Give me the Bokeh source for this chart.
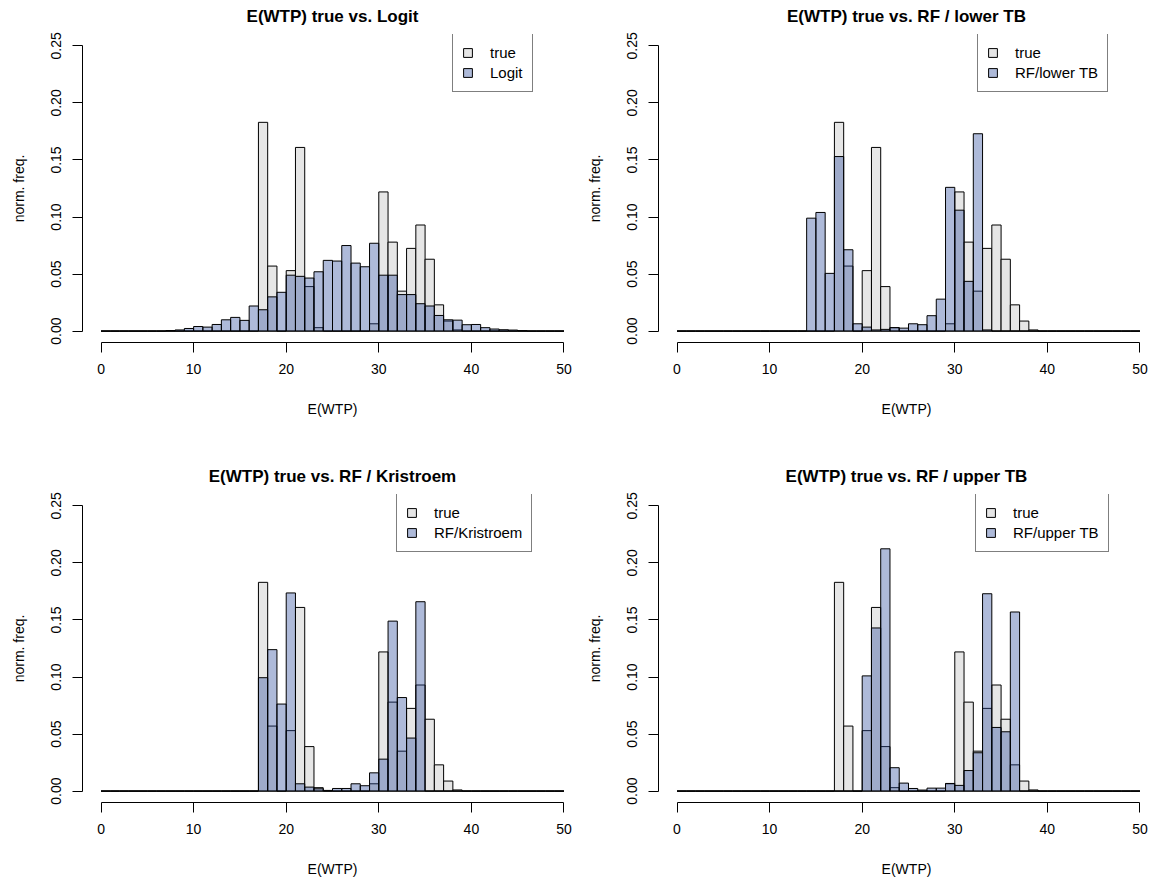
from bokeh.plotting import figure
from bokeh.models import (Range1d, FixedTicker, NumeralTickFormatter, Legend,
                          LegendItem)
from bokeh.layouts import gridplot
from bokeh.embed import file_html
from bokeh.resources import INLINE

# ---------------- data ----------------
bin_edges = list(range(0, 51))          # E(WTP) histogram breaks, width 1
x_ticks = [0, 10, 20, 30, 40, 50]
y_ticks = [0.00, 0.05, 0.10, 0.15, 0.20, 0.25]

true_freq = [
    0, 0, 0, 0, 0, 0, 0, 0, 0, 0,
    0, 0, 0, 0, 0, 0, 0, 0.183, 0.057, 0,
    0.053, 0.161, 0.039, 0.003, 0, 0, 0, 0, 0, 0.0064,
    0.122, 0.078, 0.035, 0.0725, 0.093, 0.063, 0.023, 0.0088, 0.001, 0,
    0, 0, 0, 0, 0, 0, 0, 0, 0, 0]

logit_freq = [
    0, 0, 0, 0, 0, 0, 0, 0.0005, 0.001, 0.0023,
    0.004, 0.0035, 0.0058, 0.0099, 0.012, 0.0094, 0.022, 0.0187, 0.030, 0.034,
    0.049, 0.048, 0.0465, 0.052, 0.062, 0.0614, 0.075, 0.0596, 0.0564, 0.077,
    0.049, 0.049, 0.032, 0.032, 0.024, 0.022, 0.0137, 0.0099, 0.0096, 0.0056,
    0.0058, 0.003, 0.0018, 0.0012, 0.0009, 0.0004, 0, 0, 0, 0]

lower_tb_freq = [
    0, 0, 0, 0, 0, 0, 0, 0, 0, 0,
    0, 0, 0, 0, 0.099, 0.104, 0.0506, 0.153, 0.0713, 0.0064,
    0.0035, 0.001, 0.0015, 0.003, 0.0026, 0.0064, 0.0056, 0.0135, 0.028, 0.126,
    0.106, 0.0436, 0.173, 0.001, 0, 0, 0, 0, 0, 0,
    0, 0, 0, 0, 0, 0, 0, 0, 0, 0]

kristroem_freq = [
    0, 0, 0, 0, 0, 0, 0, 0, 0, 0,
    0, 0, 0, 0, 0, 0, 0, 0.0994, 0.124, 0.0763,
    0.1737, 0.0064, 0.0035, 0.002, 0.0006, 0.0023, 0.0023, 0.0064, 0.0047, 0.016,
    0.028, 0.149, 0.082, 0.0465, 0.166, 0, 0, 0, 0, 0,
    0, 0, 0, 0, 0, 0, 0, 0, 0, 0]

upper_tb_freq = [
    0, 0, 0, 0, 0, 0, 0, 0, 0, 0,
    0, 0, 0, 0, 0, 0, 0, 0, 0, 0,
    0.101, 0.143, 0.2124, 0.0205, 0.007, 0.0023, 0.0009, 0.0026, 0.0026, 0.0067,
    0.005, 0.018, 0.0336, 0.173, 0.0558, 0.052, 0.157, 0, 0, 0,
    0, 0, 0, 0, 0, 0, 0, 0, 0, 0]

titles = ["E(WTP) true vs. Logit", "E(WTP) true vs. RF / lower TB",
          "E(WTP) true vs. RF / Kristroem", "E(WTP) true vs. RF / upper TB"]
model_labels = ["Logit", "RF/lower TB", "RF/Kristroem", "RF/upper TB"]
model_series = [logit_freq, lower_tb_freq, kristroem_freq, upper_tb_freq]

# ---------------- style ----------------
FONT = "Liberation Sans"
GREY = "#E6E6E6"
BLUE = "#2A4A9A"
BLUE_ALPHA = 0.38

# per panel layout: (width, height, border_left, border_bottom, x_end, legend_x)
layout = [
    (582, 460, 82, 118, 52.0, 370),
    (572, 460, 76, 118, 51.57, 319),
    (582, 425, 82, 83, 52.0, 314),
    (572, 425, 76, 83, 51.57, 317),
]


def make_panel(i):
    w, h, bl, bb, x_end, leg_x = layout[i]
    p = figure(width=w, height=h, output_backend="svg", toolbar_location=None,
               title=titles[i],
               x_range=Range1d(-2, x_end), y_range=Range1d(-0.01, 0.26),
               min_border_left=bl, min_border_right=0, min_border_top=34,
               min_border_bottom=bb, outline_line_color=None,
               background_fill_color="white", border_fill_color="white")
    p.xgrid.visible = False
    p.ygrid.visible = False

    p.title.align = "center"
    p.title.vertical_align = "top"
    p.title.standoff = 13
    p.title.text_font = FONT
    p.title.text_font_style = "bold"
    p.title.text_font_size = "17px"
    p.title.text_color = "black"

    left = bin_edges[:-1]
    right = bin_edges[1:]
    r_true = p.quad(left=left, right=right, bottom=0, top=true_freq,
                    fill_color=GREY, line_color="black", line_width=1)
    r_mod = p.quad(left=left, right=right, bottom=0, top=model_series[i],
                   fill_color=BLUE, fill_alpha=BLUE_ALPHA,
                   line_color="black", line_width=1)

    for ax in (p.xaxis[0], p.yaxis[0]):
        ax.axis_line_color = "black"
        ax.axis_line_width = 1
        ax.major_tick_line_color = "black"
        ax.major_tick_out = 10
        ax.major_tick_in = 0
        ax.minor_tick_line_color = None
        ax.major_label_text_font = FONT
        ax.major_label_text_font_size = "14px"
        ax.major_label_text_color = "black"
        ax.axis_label_text_font = FONT
        ax.axis_label_text_font_size = "14px"
        ax.axis_label_text_font_style = "normal"
        ax.axis_label_text_color = "black"

    xa = p.xaxis[0]
    xa.ticker = FixedTicker(ticks=x_ticks)
    xa.bounds = (bin_edges[0], bin_edges[-1])
    xa.axis_label = "E(WTP)"
    xa.major_label_standoff = 11
    xa.axis_label_standoff = 24

    ya = p.yaxis[0]
    ya.ticker = FixedTicker(ticks=y_ticks)
    ya.bounds = (y_ticks[0], y_ticks[-1])
    ya.formatter = NumeralTickFormatter(format="0.00")
    ya.major_label_orientation = "vertical"
    ya.axis_label = "norm. freq."
    ya.major_label_standoff = 11
    ya.axis_label_standoff = 22

    legend = Legend(items=[LegendItem(label="true", renderers=[r_true]),
                           LegendItem(label=model_labels[i], renderers=[r_mod])],
                    location=(leg_x, 250), padding=9, spacing=0, margin=0,
                    glyph_width=11, glyph_height=11, label_standoff=17,
                    label_height=20, label_text_font=FONT,
                    label_text_font_size="15px", label_text_color="black",
                    border_line_color="black", border_line_width=1,
                    background_fill_color="white", background_fill_alpha=1)
    p.add_layout(legend)
    return p


panels = [make_panel(i) for i in range(4)]
grid = gridplot([[panels[0], panels[1]], [panels[2], panels[3]]],
                toolbar_location=None)

open("out.html", "w").write(file_html(grid, INLINE))
